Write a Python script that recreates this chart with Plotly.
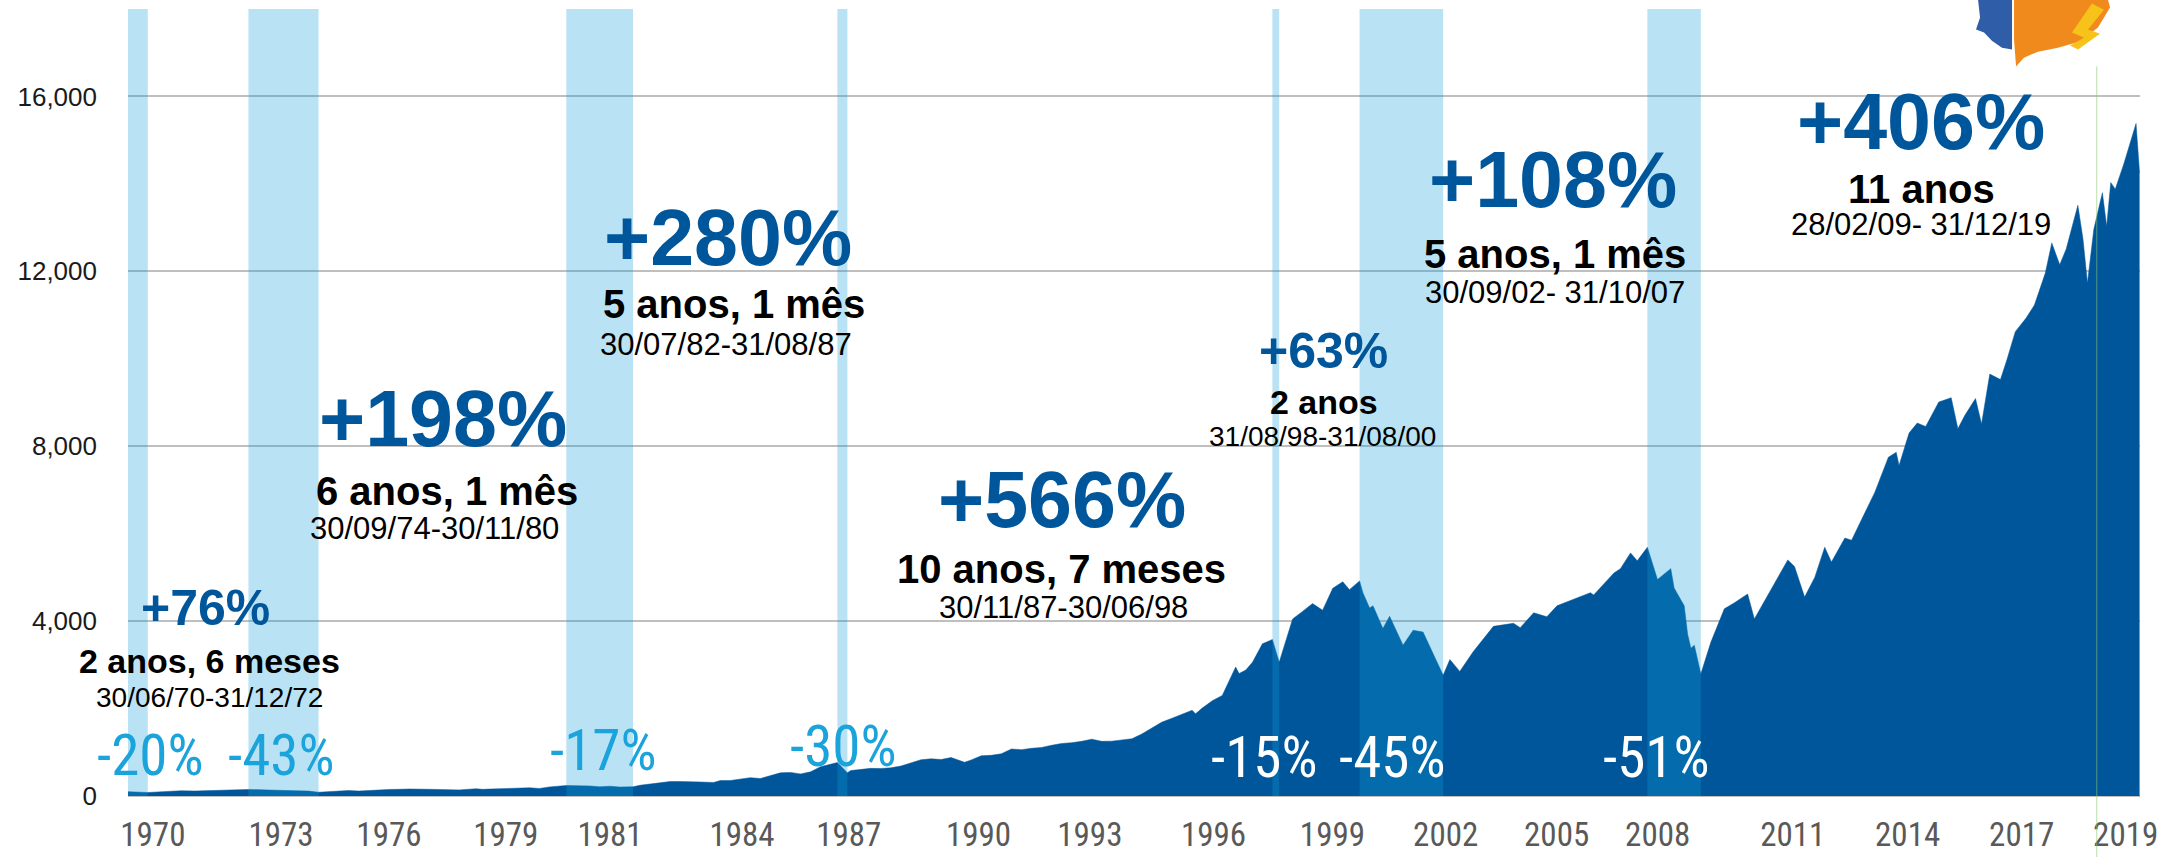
import plotly.graph_objects as go
import pandas as pd

# ---------------- data ----------------
dates = [
    "1970-01-01", "1970-06-30", "1970-09-30", "1970-12-31", "1971-04-30", "1971-08-31", "1971-12-31",
    "1972-04-30", "1972-08-31", "1972-12-31", "1973-06-30", "1973-12-31", "1974-03-31", "1974-06-30",
    "1974-09-30", "1974-12-31", "1975-03-31", "1975-06-30", "1975-09-30", "1975-12-31", "1976-03-31",
    "1976-06-30", "1976-09-30", "1976-12-31", "1977-06-30", "1977-12-31", "1978-03-31", "1978-08-31",
    "1978-10-31", "1978-12-31", "1979-06-30", "1979-09-30", "1979-12-31", "1980-03-31", "1980-06-30",
    "1980-11-30", "1981-03-31", "1981-06-30", "1981-09-30", "1981-12-31", "1982-03-31", "1982-07-31",
    "1982-09-30", "1982-12-31", "1983-03-31", "1983-06-30", "1983-09-30", "1983-12-31", "1984-03-31",
    "1984-07-31", "1984-09-30", "1984-12-31", "1985-03-31", "1985-06-30", "1985-09-30", "1985-12-31",
    "1986-03-31", "1986-06-30", "1986-09-30", "1986-12-31", "1987-03-31", "1987-08-31", "1987-11-30",
    "1987-12-31", "1988-03-31", "1988-06-30", "1988-09-30", "1988-12-31", "1989-03-31", "1989-06-30",
    "1989-09-30", "1989-12-31", "1990-03-31", "1990-06-30", "1990-10-31", "1990-12-31", "1991-03-31",
    "1991-06-30", "1991-09-30", "1991-12-31", "1992-03-31", "1992-06-30", "1992-09-30", "1992-12-31",
    "1993-03-31", "1993-06-30", "1993-09-30", "1993-12-31", "1994-03-31", "1994-06-30", "1994-09-30",
    "1994-12-31", "1995-03-31", "1995-06-30", "1995-09-30", "1995-12-31", "1996-03-31", "1996-06-30",
    "1996-07-31", "1996-09-30", "1996-12-31", "1997-03-31", "1997-07-31", "1997-08-31", "1997-10-31",
    "1997-12-31", "1998-03-31", "1998-06-30", "1998-08-31", "1998-12-31", "1999-03-31", "1999-06-30",
    "1999-09-30", "1999-12-31", "2000-03-31", "2000-05-31", "2000-08-31", "2000-09-30", "2000-11-30",
    "2000-12-31", "2001-03-31", "2001-05-31", "2001-09-30", "2001-12-31", "2002-03-31", "2002-07-31",
    "2002-09-30", "2002-11-30", "2003-02-28", "2003-06-30", "2003-12-31", "2004-06-30", "2004-08-31",
    "2004-12-31", "2005-04-30", "2005-07-31", "2005-12-31", "2006-05-31", "2006-06-30", "2006-12-31",
    "2007-02-28", "2007-05-31", "2007-07-31", "2007-10-31", "2008-01-31", "2008-05-31", "2008-06-30",
    "2008-09-30", "2008-10-31", "2008-11-30", "2008-12-31", "2009-02-28", "2009-05-31", "2009-09-30",
    "2009-12-31", "2010-04-30", "2010-06-30", "2010-09-30", "2010-12-31", "2011-04-30", "2011-06-30",
    "2011-09-30", "2011-12-31", "2012-03-31", "2012-05-31", "2012-09-30", "2012-11-30", "2013-03-31",
    "2013-06-30", "2013-10-31", "2014-01-10", "2014-02-05", "2014-05-07", "2014-07-20", "2014-10-05",
    "2015-02-01", "2015-05-25", "2015-07-25", "2015-09-25", "2016-01-01", "2016-02-25", "2016-05-10",
    "2016-08-15", "2016-10-12", "2016-12-28", "2017-04-05", "2017-06-20", "2017-09-27", "2017-11-25",
    "2018-02-05", "2018-04-05", "2018-07-20", "2018-09-05", "2018-10-15", "2018-12-12", "2019-02-28",
    "2019-04-08", "2019-05-15", "2019-06-25", "2019-09-10", "2019-12-31", "2020-02-01",
]
values = [
    100, 80, 93, 104, 120, 114, 123,
    128, 134, 150, 137, 128, 124, 112,
    86, 94, 115, 125, 112, 129, 145,
    150, 153, 160, 153, 148, 140, 166,
    152, 158, 175, 182, 188, 173, 208,
    240, 238, 230, 210, 224, 205, 212,
    245, 272, 300, 330, 332, 333, 320,
    310, 352, 354, 385, 420, 400, 466,
    530, 540, 505, 553, 670, 765, 530,
    582, 600, 632, 630, 645, 685, 760,
    830, 850, 835, 880, 770, 825, 920,
    930, 965, 1075, 1060, 1090, 1110, 1160,
    1200, 1220, 1250, 1300, 1250, 1255, 1290,
    1310, 1420, 1560, 1690, 1780, 1870, 1960,
    1880, 2010, 2180, 2300, 2950, 2800, 2880,
    3060, 3480, 3580, 3060, 4050, 4220, 4400,
    4250, 4750, 4900, 4720, 4920, 4650, 4300,
    4350, 3830, 4110, 3450, 3790, 3750, 3100,
    2760, 3120, 2850, 3300, 3880, 3950, 3850,
    4190, 4100, 4350, 4500, 4650, 4600, 5100,
    5200, 5560, 5380, 5690, 4950, 5200, 4760,
    4350, 3700, 3380, 3450, 2790, 3520, 4280,
    4420, 4620, 4050, 4450, 4850, 5400, 5250,
    4550, 5000, 5690, 5350, 5900, 5850, 6500,
    6950, 7750, 7860, 7560, 8300, 8530, 8450,
    9010, 9110, 8400, 8700, 9090, 8510, 9650,
    9525, 9970, 10620, 10930, 11230, 11960, 12650,
    12150, 12510, 13510, 12730, 11730, 12960, 13800,
    13030, 14030, 13880, 14450, 15380, 14250,
]

# bear-market periods (start, end) and their declines
bear_start = ["1970-01-01", "1972-12-31", "1980-11-30", "1987-08-31", "1998-06-30", "2000-08-31", "2007-10-31"]
bear_end = ["1970-06-30", "1974-09-30", "1982-07-30", "1987-11-30", "1998-08-31", "2002-09-30", "2009-02-28"]
bear_labels = ["-20%", "-43%", "-17%", "-30%", "-15%", "-45%", "-51%"]

# bull-market annotations
bull_pct = ["+76%", "+198%", "+280%", "+566%", "+63%", "+108%", "+406%"]
bull_dur = ["2 anos, 6 meses", "6 anos, 1 mês", "5 anos, 1 mês", "10 anos, 7 meses", "2 anos", "5 anos, 1 mês", "11 anos"]
bull_dates = ["30/06/70-31/12/72", "30/09/74-30/11/80", "30/07/82-31/08/87", "30/11/87-30/06/98",
              "31/08/98-31/08/00", "30/09/02- 31/10/07", "28/02/09- 31/12/19"]

tick_text = ["1970", "1973", "1976", "1979", "1981", "1984", "1987", "1990", "1993", "1996",
             "1999", "2002", "2005", "2008", "2011", "2014", "2017", "2019"]
y_ticks = [0, 4000, 8000, 12000, 16000]

# ---------------- layout helpers ----------------
def yr(d):
    y = int(d)
    return (pd.Timestamp(y, 1, 1) + pd.Timedelta(days=(d - y) * 365.25)).strftime("%Y-%m-%d")

tick_pos = [1970.62, 1973.81, 1976.50, 1979.41, 1982.0, 1985.29, 1987.95, 1991.18, 1993.95, 1997.03,
            1999.99, 2002.81, 2005.57, 2008.09, 2011.45, 2014.31, 2017.15, 2019.74]

# label positions (decimal year, value) and styles
pct_pos = [(1971.94, 4302), (1977.84, 8627), (1984.94, 12769), (1993.25, 6773), (1999.77, 10183), (2005.47, 14096), (2014.63, 15423)]
pct_size = [50, 79, 79, 79, 50, 79, 79]
dur_pos = [(1972.04, 3089), (1977.94, 6979), (1985.09, 11258), (1993.25, 5194), (1999.77, 9016), (2005.52, 12403), (2014.66, 13890)]
dur_size = [34, 40, 40, 40, 34, 40, 40]
date_pos = [(1972.04, 2243), (1977.62, 6110), (1984.89, 10320), (1993.30, 4302), (1999.75, 8215), (2005.52, 11510), (2014.63, 13066)]
date_size = [28, 31, 31, 31, 28, 31, 31]
bear_pos = [(1970.57, 930), (1973.83, 930), (1981.85, 1040), (1987.82, 1140), (1998.30, 880), (2001.49, 880), (2008.06, 880)]
bear_color = ["#1BA3DC"] * 4 + ["#FFFFFF"] * 3

AREA = "#00569B"
SANS = "Liberation Sans, Arial, sans-serif"
NARROW = "Liberation Sans Narrow, Arial Narrow, Roboto Condensed, DejaVu Sans Condensed, sans-serif"

fig = go.Figure()
fig.add_trace(go.Scatter(x=pd.to_datetime(dates), y=values, mode="lines", fill="tozeroy",
                         line=dict(color=AREA, width=0.5), fillcolor=AREA, hoverinfo="skip"))

shapes = []
for s, e in zip(bear_start, bear_end):
    shapes.append(dict(type="rect", xref="x", yref="paper", x0=s, x1=e, y0=0, y1=1,
                       fillcolor="rgba(14,158,217,0.29)", line=dict(width=0), layer="above"))
# thin green vertical marker line
shapes.append(dict(type="line", xref="x", yref="paper", x0=yr(2019.02), x1=yr(2019.02), y0=-0.0775, y1=0.927,
                   line=dict(color="rgba(140,200,110,0.6)", width=1), layer="above"))

# rough logo (top right)
def P(X, Y):
    return f"{(X - 128) / 2012:.4f},{(796 - Y) / 786.6:.4f}"

def path(pts):
    return "M " + " L ".join(P(x, y) for x, y in pts) + " Z"

logo_blue = [(1978, 0), (2012, 0), (2012, 50), (2002, 48), (1992, 41), (1984, 33), (1976, 30), (1980, 18)]
logo_orange = [(2014, 0), (2108, 0), (2110, 8), (2098, 28), (2080, 42), (2058, 48), (2038, 52), (2024, 58), (2016, 67), (2014, 40)]
logo_yellow = [(2092, 4), (2104, 10), (2088, 30), (2100, 34), (2078, 50), (2070, 46), (2084, 38), (2072, 33)]
for pts, col in [(logo_blue, "#2F5DA8"), (logo_orange, "#F08A1C"), (logo_yellow, "#F7C21A")]:
    shapes.append(dict(type="path", xref="paper", yref="paper", path=path(pts),
                       fillcolor=col, line=dict(width=0), layer="above"))

ann = []
for i in range(len(bull_pct)):
    ann.append(dict(x=yr(pct_pos[i][0]), y=pct_pos[i][1], text=bull_pct[i], showarrow=False,
                    xanchor="center", yanchor="middle",
                    font=dict(family=SANS, size=pct_size[i], color="#00569B", weight=700)))
    ann.append(dict(x=yr(dur_pos[i][0]), y=dur_pos[i][1], text=bull_dur[i], showarrow=False,
                    xanchor="center", yanchor="middle",
                    font=dict(family=SANS, size=dur_size[i], color="#000000", weight=700)))
    ann.append(dict(x=yr(date_pos[i][0]), y=date_pos[i][1], text=bull_dates[i], showarrow=False,
                    xanchor="center", yanchor="middle",
                    font=dict(family=SANS, size=date_size[i], color="#000000")))
for i in range(len(bear_labels)):
    ann.append(dict(x=yr(bear_pos[i][0]), y=bear_pos[i][1], text=bear_labels[i], showarrow=False,
                    xanchor="center", yanchor="middle",
                    font=dict(family=NARROW, size=57, color=bear_color[i])))

fig.update_layout(
    width=2167, height=857,
    margin=dict(l=128, r=27, t=9, b=61, autoexpand=False),
    paper_bgcolor="white", plot_bgcolor="white",
    showlegend=False,
    shapes=shapes, annotations=ann,
    xaxis=dict(type="date", range=["1970-01-01", "2020-02-05"], tickvals=[yr(t) for t in tick_pos],
               ticktext=tick_text, showgrid=False, zeroline=False, showline=False, ticks="",
               automargin=False,
               tickfont=dict(family=NARROW, size=33, color="#595959"), ticklabelstandoff=16),
    yaxis=dict(range=[0, 18000], tickvals=y_ticks, tickformat=",", showgrid=True, automargin=False,
               gridcolor="#BFBFBF", gridwidth=1.5, zeroline=True, zerolinecolor="#BFBFBF", zerolinewidth=1.5,
               showline=False, ticks="", tickfont=dict(family=SANS, size=26, color="#1A1A1A"),
               ticklabelstandoff=30),
)

fig.write_html("out.html", config={"displayModeBar": False},
               post_script="document.body.style.margin='0';document.body.style.overflow='hidden';")
